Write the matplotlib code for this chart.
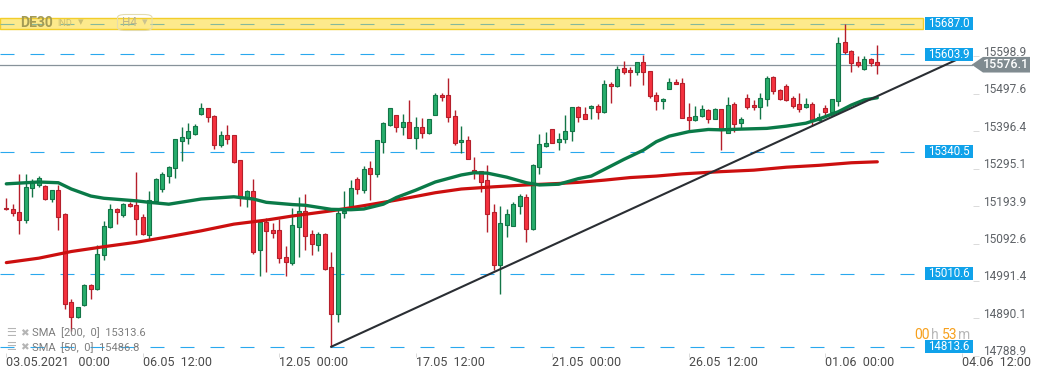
import matplotlib
matplotlib.use("Agg")
import matplotlib.pyplot as plt
import matplotlib.transforms as mtransforms
from matplotlib.patches import Rectangle, Polygon, FancyBboxPatch

plt.rcParams['font.family'] = ['Roboto', 'DejaVu Sans']

# DE30 H4 candles (index 0 = 03.05.2021 00:00)
opens = [15190, 15187, 15177, 15155, 15242, 15251, 15248, 15212, 15237, 15172,
         14935, 14895, 14926, 14980, 14969, 15061, 15136, 15185, 15169, 15200,
         15196, 15164, 15116, 15207, 15241, 15276, 15298, 15371, 15379, 15390,
         15442, 15458, 15437, 15358, 15385, 15385, 15318, 15215, 15234, 15074,
         15152, 15128, 15128, 15055, 15039, 15138, 15180, 15118, 15089, 15118,
         15028, 14903, 15174, 15191, 15267, 15238, 15296, 15281, 15368, 15414,
         15439, 15408, 15421, 15379, 15407, 15391, 15439, 15494, 15494, 15437,
         15366, 15373, 15291, 15288, 15264, 15177, 15035, 15143, 15141, 15195,
         15218, 15133, 15300, 15357, 15401, 15366, 15374, 15396, 15461, 15442,
         15458, 15464, 15448, 15523, 15519, 15566, 15561, 15556, 15584, 15558,
         15493, 15477, 15511, 15529, 15526, 15434, 15426, 15437, 15453, 15430,
         15456, 15392, 15469, 15418, 15485, 15466, 15461, 15483, 15542, 15508,
         15518, 15485, 15469, 15461, 15469, 15426, 15458, 15447, 15477, 15637,
         15612, 15583, 15564, 15591, 15583]
highs = [15217, 15199, 15281, 15281, 15266, 15275, 15251, 15237, 15250, 15175,
         14942, 14921, 14983, 14983, 15088, 15154, 15199, 15190, 15203, 15205,
         15287, 15173, 15235, 15269, 15286, 15302, 15374, 15408, 15419, 15416,
         15472, 15459, 15439, 15396, 15413, 15386, 15318, 15237, 15266, 15152,
         15161, 15147, 15159, 15086, 15189, 15219, 15227, 15129, 15123, 15122,
         15070, 15186, 15235, 15264, 15272, 15302, 15317, 15372, 15422, 15458,
         15439, 15442, 15481, 15434, 15431, 15429, 15499, 15499, 15540, 15454,
         15410, 15383, 15327, 15288, 15305, 15199, 15195, 15186, 15205, 15227,
         15227, 15308, 15389, 15395, 15402, 15391, 15440, 15461, 15465, 15461,
         15467, 15470, 15534, 15529, 15572, 15585, 15569, 15584, 15602, 15560,
         15501, 15485, 15540, 15537, 15539, 15473, 15464, 15466, 15456, 15458,
         15456, 15488, 15474, 15434, 15497, 15481, 15499, 15546, 15545, 15511,
         15524, 15491, 15500, 15485, 15476, 15445, 15466, 15483, 15650, 15685,
         15615, 15599, 15599, 15593, 15629]
lows = [15184, 15168, 15119, 15149, 15219, 15245, 15210, 15206, 15130, 14916,
        14856, 14892, 14924, 14943, 14966, 15049, 15135, 15146, 15164, 15191,
        15116, 15116, 15102, 15203, 15233, 15257, 15271, 15317, 15363, 15387,
        15439, 15422, 15349, 15354, 15361, 15311, 15194, 15192, 15065, 15006,
        15016, 15108, 15041, 15005, 15035, 15055, 15075, 15062, 15073, 15021,
        14813.6, 14881, 15161, 15189, 15227, 15230, 15211, 15273, 15337, 15411,
        15393, 15387, 15379, 15348, 15379, 15389, 15439, 15479, 15422, 15360,
        15338, 15322, 15266, 15233, 15124, 15021, 14957, 15111, 15140, 15172,
        15097, 15129, 15281, 15354, 15365, 15345, 15364, 15371, 15420, 15428,
        15430, 15430, 15446, 15473, 15517, 15552, 15519, 15547, 15522, 15485,
        15454, 15457, 15510, 15523, 15431, 15400, 15425, 15436, 15419, 15428,
        15346, 15391, 15395, 15401, 15457, 15455, 15430, 15465, 15496, 15482,
        15477, 15460, 15447, 15460, 15410, 15425, 15439, 15439, 15465, 15604,
        15557, 15569, 15563, 15572, 15550]
closes = [15185, 15174, 15155, 15245, 15255, 15270, 15212, 15236, 15165, 14930,
          14895, 14920, 14980, 14969, 15064, 15140, 15185, 15177, 15200, 15193,
          15160, 15118, 15210, 15266, 15281, 15299, 15374, 15380, 15396, 15410,
          15458, 15434, 15358, 15385, 15376, 15314, 15215, 15234, 15070, 15152,
          15126, 15122, 15053, 15042, 15142, 15180, 15114, 15092, 15118, 15024,
          14903, 15174, 15181, 15242, 15241, 15293, 15281, 15372, 15419, 15458,
          15408, 15421, 15379, 15407, 15391, 15429, 15494, 15489, 15434, 15365,
          15373, 15322, 15286, 15260, 15173, 15035, 15148, 15172, 15199, 15221,
          15133, 15304, 15361, 15364, 15365, 15376, 15397, 15461, 15436, 15429,
          15464, 15447, 15523, 15518, 15564, 15556, 15556, 15584, 15556, 15491,
          15478, 15483, 15529, 15523, 15431, 15426, 15437, 15456, 15430, 15456,
          15400, 15466, 15417, 15429, 15463, 15461, 15485, 15539, 15504, 15483,
          15482, 15465, 15457, 15469, 15427, 15436, 15447, 15483, 15634, 15610,
          15580, 15575, 15591, 15580, 15576.1]

# moving averages read at a subset of candles
sma50_idx = [0, 5, 8, 10, 13, 15, 20, 22, 25, 30, 35, 38, 40, 44, 46, 50, 53, 55, 58, 60,
             63, 66, 70, 72, 74, 77, 80, 82, 85, 88, 90, 93, 95, 98, 100, 102, 105, 108,
             110, 113, 117, 120, 123, 125, 128, 130, 132, 134]
sma50_val = [15254, 15259, 15257, 15240, 15221, 15215, 15208, 15204, 15199, 15213,
             15219, 15213, 15204, 15198, 15196, 15185, 15184, 15186, 15199, 15217,
             15237, 15259, 15278, 15284, 15283, 15272, 15257, 15251, 15253, 15268,
             15275, 15302, 15320, 15345, 15368, 15383, 15395, 15401, 15400, 15402,
             15404, 15410, 15418, 15429, 15449, 15467, 15481, 15486.8]
sma200_idx = [0, 5, 10, 15, 20, 25, 30, 35, 40, 44, 50, 55, 60, 66, 70, 75, 80, 85, 88,
              92, 96, 100, 104, 108, 110, 115, 120, 125, 130, 134]
sma200_val = [15041, 15053, 15071, 15084, 15096, 15111, 15127, 15145, 15156, 15167,
              15181, 15195, 15210, 15230, 15240, 15246, 15251, 15255, 15258, 15264,
              15271, 15275, 15281, 15285, 15287, 15291, 15299, 15304, 15311, 15313.6]

trend_idx = [50, 147]
trend_val = [14813.6, 15596]

zone = [15672, 15702]
zone_level = 15687.0
levels = [15687.0, 15603.9, 15340.5, 15010.6, 14813.6]
last_price = 15576.1

tick_idx = [0, 21, 42, 63, 84, 105, 126, 147]
tick_labels = ['03.05.2021   00:00', '06.05  12:00', '12.05  00:00', '17.05  12:00',
               '21.05  00:00', '26.05  12:00', '01.06  00:00', '04.06  12:00']
price_ticks = [15598.9, 15497.6, 15396.4, 15295.1, 15193.9, 15092.6, 14991.4, 14890.1, 14788.9]

W, H = 1041, 380
fig = plt.figure(figsize=(W / 100, H / 100), dpi=100)
ax_right = 973
ax_bottom = 357
ax = fig.add_axes([0, (H - ax_bottom) / H, ax_right / W, ax_bottom / H])
ymax = 15751.1
ymin = ymax - 2.704 * ax_bottom
ax.set_xlim(-0.97, 148.72)
ax.set_ylim(ymin, ymax)
upx = (ymax - ymin) / ax_bottom  # price units per pixel

for s in ax.spines.values():
    s.set_visible(False)

def fx(px):
    return px / ax_right

dash = (0, (12.6, 14.4))
trans = mtransforms.blended_transform_factory(ax.transAxes, ax.transData)

# resistance zone + levels
ax.axhspan(zone[0], zone[1], xmin=0, xmax=fx(923), facecolor='#fdea8c',
           edgecolor='#f2cd2a', lw=1, zorder=1)
ax.axhline(zone_level, xmin=0, xmax=fx(918), color='#86b99b', lw=0.8, ls=dash, zorder=1.2)
for v in levels[1:]:
    ax.axhline(v, xmin=0, xmax=fx(918), color='#2aa8ee', lw=0.8, ls=dash, zorder=1.2)
ax.axhline(last_price, xmin=0, xmax=1, color='#87929a', lw=0.9, zorder=1.3)

# candles
n = len(opens)
xs = list(range(n))
up = [c >= o for o, c in zip(opens, closes)]
fills = ['#27ad6b' if u else '#f5313f' for u in up]
edges = ['#137547' if u else '#b51f2b' for u in up]
bottoms = [min(o, c) for o, c in zip(opens, closes)]
heights = [max(abs(c - o), 1.5 * upx) for o, c in zip(opens, closes)]
ax.vlines(xs, lows, highs, colors=edges, lw=1.0, zorder=3)
ax.bar(xs, heights, bottom=bottoms, width=0.66, color=fills, edgecolor=edges,
       linewidth=0.8, zorder=4)

# moving averages and trend line
ax.plot(sma200_idx, sma200_val, color='#cc0f0f', lw=2.3, zorder=5, solid_capstyle='round')
ax.plot(sma50_idx, sma50_val, color='#0a7a48', lw=2.4, zorder=5, solid_capstyle='round')
ax.plot(trend_idx, trend_val, color='#2a2e33', lw=1.5, zorder=6)

# level tags
for v in levels:
    ax.add_patch(Rectangle((fx(925), v - 6.5 * upx), fx(47.7), 13 * upx, transform=trans,
                           facecolor='#10a2ea', edgecolor='none', zorder=7, clip_on=False))
    ax.text(fx(949), v, f'{v:.1f}', transform=trans, ha='center', va='center',
            color='white', fontsize=8.3, zorder=8, clip_on=False)

# current price tag
h = 7.8 * upx
pts = [(fx(971.7), last_price), (fx(983), last_price + h), (fx(1030), last_price + h),
       (fx(1030), last_price - h), (fx(983), last_price - h)]
ax.add_patch(Polygon(pts, closed=True, transform=trans, facecolor='#808b90',
                     edgecolor='none', zorder=7, clip_on=False))
ax.text(fx(1006), last_price, f'{last_price:.1f}', transform=trans, ha='center',
        va='center', color='white', fontsize=9, fontweight='medium', zorder=8,
        clip_on=False)

# axes ticks
ax.yaxis.tick_right()
ax.set_yticks(price_ticks)
ax.set_yticklabels([f'{v:.1f}' for v in price_ticks])
ax.tick_params(axis='y', length=4, width=0.6, color='#d5d5d5', labelcolor='#5f6368',
               labelsize=8.6, pad=3)
shift = mtransforms.ScaledTranslation(0, 5.5 / 100, fig.dpi_scale_trans)
for lbl in ax.get_yticklabels():
    lbl.set_transform(lbl.get_transform() + shift)

ax.set_xticks(tick_idx)
ax.set_xticklabels(tick_labels, ha='left')
ax.tick_params(axis='x', direction='in', length=3, width=0.6, color='#d5d5d5',
               labelcolor='#4a4a4a', labelsize=9, pad=-0.6)

# header
def ftext(px, py, s, **kw):
    fig.text(px / W, 1 - py / H, s, **kw)

ftext(20, 23, 'DE30', fontsize=10, fontweight='bold', color='#a39b55', va='center')
ftext(57, 24, 'IND', fontsize=6.5, color='#cbbf72', va='center')
ftext(78, 22, '▾', fontsize=8, color='#cbbf72', va='center', family=['DejaVu Sans'])
fig.patches.append(FancyBboxPatch((117.5 / W, 1 - 30.5 / H), 34.5 / W, 16 / H,
                                  boxstyle='round,pad=0,rounding_size=0.008',
                                  transform=fig.transFigure, facecolor='none',
                                  edgecolor='#e4dcae', lw=0.8))
ftext(122, 23, 'H4', fontsize=8.5, color='#bdb68a', va='center')
ftext(142, 22, '▾', fontsize=8, color='#cbc390', va='center', family=['DejaVu Sans'])

# indicator legend
ftext(6, 333, '☰', fontsize=8, color='#b5b5b5', va='center', family=['DejaVu Sans'])
ftext(20, 333, '✖', fontsize=7.5, color='#b5b5b5', va='center', family=['DejaVu Sans'])
ftext(31.5, 333, f'SMA  [200,  0]  {sma200_val[-1]}', fontsize=8, color='#7d7d7d', va='center')
ftext(6, 347.5, '☰', fontsize=8, color='#b5b5b5', va='center', family=['DejaVu Sans'])
ftext(20, 347.5, '✖', fontsize=7.5, color='#b5b5b5', va='center', family=['DejaVu Sans'])
ftext(31.5, 347.5, f'SMA  [50,  0]  {sma50_val[-1]}', fontsize=8, color='#7d7d7d', va='center')

# time to candle close
ftext(914, 335, '00', fontsize=10, color='#f7a01d', va='center')
ftext(930.5, 335, 'h', fontsize=10, color='#b8b8b8', va='center')
ftext(941.5, 335, '53', fontsize=10, color='#f7a01d', va='center')
ftext(958, 335, 'm', fontsize=10, color='#b8b8b8', va='center')

fig.savefig('out.png', dpi=100)
